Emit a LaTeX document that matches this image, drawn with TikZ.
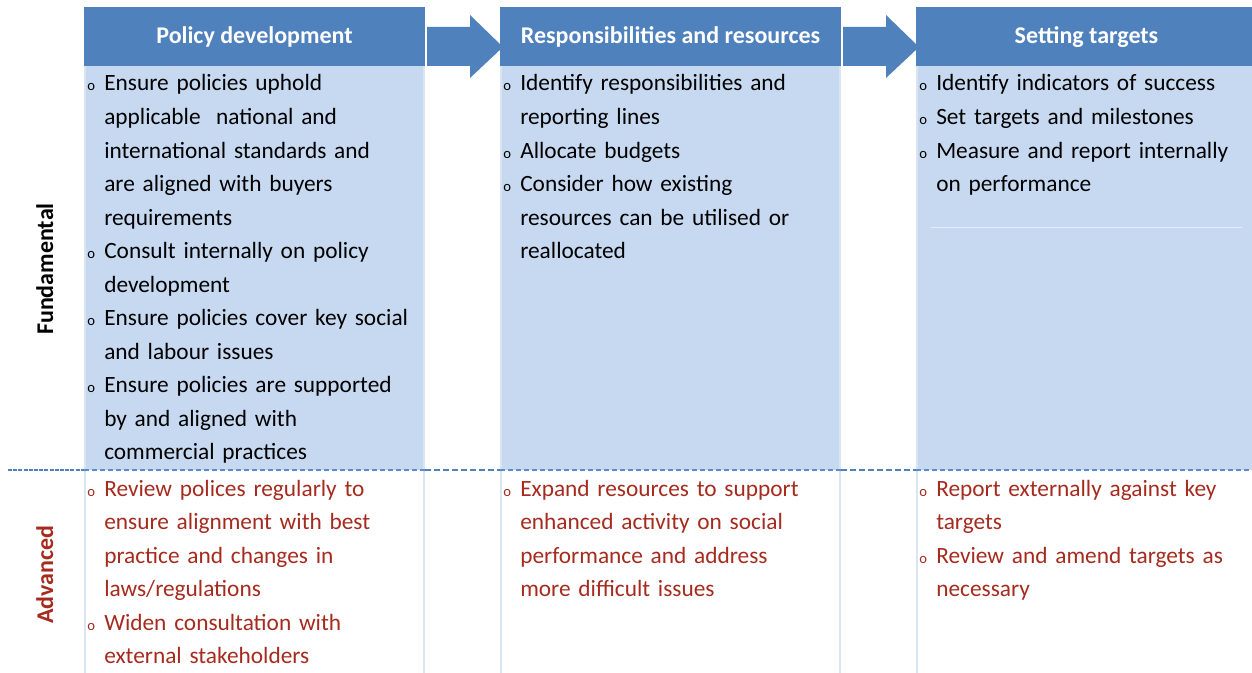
\documentclass[tikz,border=0pt]{standalone}
\usepackage{fontspec}
\setmainfont{Carlito}
\usepackage{tikz}
\usepackage{xcolor}
\definecolor{hdblue}{HTML}{4F81BD}
\definecolor{bodyblue}{HTML}{C6D9F1}
\definecolor{edgeblue}{HTML}{DAE5F3}
\definecolor{dashblue}{HTML}{5B8CCB}
\definecolor{advred}{HTML}{A62B1F}
\newcommand{\bitem}[1]{\hangindent=12.75pt\hangafter=1\noindent\makebox[12.75pt][l]{\fontsize{11}{11}\selectfont o}#1\par}

\begin{document}
\begin{tikzpicture}[x=0.75pt,y=-0.75pt,line cap=butt,
  headtext/.style={anchor=base,text=white,inner sep=0pt,font=\fontsize{18}{22}\selectfont\bfseries},
  items/.style={anchor=base west,inner sep=0pt,text width=#1,align=left,font=\fontsize{17.5}{25.15}\selectfont},
  rowlabel/.style={anchor=base,rotate=90,inner sep=0pt,font=\fontsize{18}{22}\selectfont\bfseries},
  edge/.style={edgeblue,line width=1.5pt},
  dashin/.style={dashblue,line width=1pt,dash pattern=on 3.75pt off 2.25pt},
  dashgap/.style={hdblue,line width=1.8pt,dash pattern=on 4.5pt off 2.25pt},
  dashleft/.style={hdblue,line width=1.4pt,dash pattern=on 3pt off 0.9pt}]
\clip (0,0) rectangle (1252,673);
\fill[white] (0,0) rectangle (1252,673);
\foreach \cx in {84,500,916} {
  \fill[bodyblue] (\cx,66) rectangle (\cx+341,470);
  \fill[hdblue] (\cx,7) rectangle (\cx+341,66);
  \draw[edge] (\cx+1,66) -- (\cx+1,673);
  \draw[edge] (\cx+340,66) -- (\cx+340,673);
  \draw[dashin] (\cx,470) -- (\cx+341,470);
}
\foreach \ax in {427,843}
  \fill[hdblue] (\ax,27) -- (\ax+43,27) -- (\ax+43,15) -- (\ax+76,47)
    -- (\ax+43,78) -- (\ax+43,66) -- (\ax,66) -- cycle;
\draw[edgeblue!70!white,line width=0.75pt] (931,228) -- (1242,228);
\draw[dashleft] (8,470) -- (84,470);
\foreach \sx/\ex in {425/500,841/916}
  \draw[dashgap] (\sx,470) -- (\ex,470);

\node[headtext] (hd1) at (254.5,44) {Policy development};
\node[headtext] (hd2) at (670.5,44) {Responsibilities and resources};
\node[headtext] (hd3) at (1086.5,44) {Setting targets};

\node[rowlabel] (fund) at (53,269) {Fundamental};
\node[rowlabel,text=advred] (adv) at (53,574.5) {Advanced};

\node[items=252pt] (f1) at (87,91) {\bitem{Ensure policies uphold\newline applicable\ \ national and\newline international standards and\newline are aligned with buyers\newline requirements}
\bitem{Consult internally on policy\newline development}
\bitem{Ensure policies cover key social\newline and labour issues}
\bitem{Ensure policies are supported\newline by and aligned with\newline commercial practices}};
\node[items=248pt] (f2) at (503,91) {\bitem{Identify responsibilities and\newline reporting lines}
\bitem{Allocate budgets}
\bitem{Consider how existing\newline resources can be utilised or\newline reallocated}};
\node[items=245pt] (f3) at (919,91) {\bitem{Identify indicators of success}
\bitem{Set targets and milestones}
\bitem{Measure and report internally\newline on performance}};

\node[items=252pt,text=advred] (a1) at (87,496) {\bitem{Review polices regularly to\newline ensure alignment with best\newline practice and changes in\newline laws/regulations}
\bitem{Widen consultation with\newline external stakeholders}};
\node[items=248pt,text=advred] (a2) at (503,496) {\bitem{Expand resources to support\newline enhanced activity on social\newline performance and address\newline more difficult issues}};
\node[items=245pt,text=advred] (a3) at (919,496) {\bitem{Report externally against key\newline targets}
\bitem{Review and amend targets as\newline necessary}};
\end{tikzpicture}
\end{document}
